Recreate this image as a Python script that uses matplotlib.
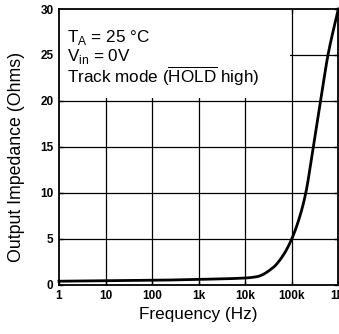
import matplotlib.pyplot as plt
import numpy as np
from matplotlib.patches import Rectangle

# curve
freq = [1, 10, 100, 1e3, 1e4, 1.8e4, 4e4, 6.5e4, 1e5, 1.5e5, 2e5, 2.9e5, 4.16e5, 6e5, 1e6]
zout = [0.4, 0.45, 0.5, 0.6, 0.75, 0.9, 1.9, 3.2, 5.0, 7.5, 10.0, 15.0, 20.0, 25.0, 30.0]

xticks = [1, 10, 100, 1e3, 1e4, 1e5, 1e6]
xlabels = ["1", "10", "100", "1k", "10k", "100k", "1M"]
yticks = [0, 5, 10, 15, 20, 25, 30]

plt.rcParams['font.family'] = ['Liberation Sans', 'DejaVu Sans']


def pchip(x, y, xn):
	# monotone cubic (Fritsch-Carlson) for a smooth drawn curve
	x = np.asarray(x, float)
	y = np.asarray(y, float)
	h = np.diff(x)
	d = np.diff(y) / h
	m = np.zeros_like(y)
	m[0] = d[0]
	m[-1] = d[-1]
	for i in range(1, len(x) - 1):
		if d[i - 1] * d[i] <= 0:
			m[i] = 0
		else:
			w1 = 2 * h[i] + h[i - 1]
			w2 = h[i] + 2 * h[i - 1]
			m[i] = (w1 + w2) / (w1 / d[i - 1] + w2 / d[i])
	idx = np.clip(np.searchsorted(x, xn) - 1, 0, len(x) - 2)
	t = (xn - x[idx]) / h[idx]
	h00 = 2 * t**3 - 3 * t**2 + 1
	h10 = t**3 - 2 * t**2 + t
	h01 = -2 * t**3 + 3 * t**2
	h11 = t**3 - t**2
	return h00 * y[idx] + h10 * h[idx] * m[idx] + h01 * y[idx + 1] + h11 * h[idx] * m[idx + 1]


fig = plt.figure(figsize=(3.39, 3.34), dpi=100)
ax = fig.add_axes([0.174, 0.147, 0.824, 0.826])
ax.set_xscale('log')
ax.set_xlim(1, 1e6)
ax.set_ylim(0, 30)

# grid lines drawn by hand so the legend box can hide part of them
for x in xticks[1:-1]:
	ax.plot([x, x], [0, 30], color='black', lw=0.9, zorder=1)
for y in yticks[1:-1]:
	ax.plot([1, 1e6], [y, y], color='black', lw=0.9, zorder=1)
ax.add_patch(Rectangle((1, 20.3), 9e4, 9.7, facecolor='white', edgecolor='none', zorder=2))

dom = np.linspace(0, 6, 500)
ran = pchip(np.log10(freq), zout, dom)
ax.plot(10**dom, ran, color='black', lw=2, zorder=3, clip_on=False)

ax.set_xticks(xticks)
ax.set_xticklabels(xlabels, fontsize=8.5, fontweight='bold')
ax.minorticks_off()
ax.set_yticks(yticks)
ax.set_yticklabels([str(v) for v in yticks], fontsize=8.5, fontweight='bold')
ax.tick_params(direction='in', length=3, width=1, top=True, right=True, pad=4)
for s in ax.spines.values():
	s.set_linewidth(1.3)

ax.set_xlabel("Frequency (Hz)", fontsize=12.3, labelpad=3)
ax.set_ylabel("Output Impedance (Ohms)", fontsize=12.8)
ax.yaxis.set_label_coords(-0.12, 0.465)

ax.text(0.03, 0.93, "T$_\\mathregular{A}$ = 25 °C\nV$_\\mathregular{in}$ = 0V\nTrack mode ($\\mathregular{\\overline{HOLD}}$ high)",
	transform=ax.transAxes, fontsize=12.3, va='top', ha='left', linespacing=0.95, zorder=4)

fig.savefig("out.png", dpi=100)
